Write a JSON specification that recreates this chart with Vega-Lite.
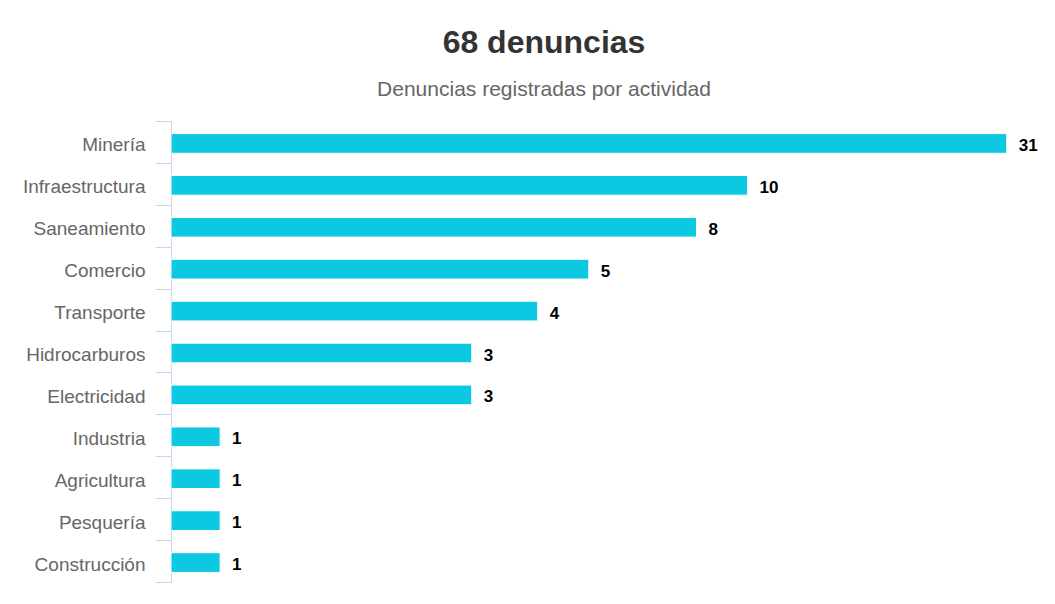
{
  "$schema": "https://vega.github.io/schema/vega-lite/v6.json",
  "width": 870,
  "height": 461,
  "autosize": {"type": "none"},
  "padding": {"left": 171, "top": 121, "right": 14, "bottom": 22},
  "background": "white",
  "title": {
    "text": "68 denuncias",
    "subtitle": "Denuncias registradas por actividad",
    "fontSize": 32,
    "fontWeight": "bold",
    "color": "#333333",
    "font": "Liberation Sans",
    "subtitleFont": "Liberation Sans",
    "subtitleFontSize": 21,
    "subtitleColor": "#666666",
    "anchor": "middle",
    "dx": -62,
    "offset": 11,
    "subtitlePadding": 19
  },
  "data": {
    "values": [
      {"actividad": "Minería", "denuncias": 31},
      {"actividad": "Infraestructura", "denuncias": 10},
      {"actividad": "Saneamiento", "denuncias": 8},
      {"actividad": "Comercio", "denuncias": 5},
      {"actividad": "Transporte", "denuncias": 4},
      {"actividad": "Hidrocarburos", "denuncias": 3},
      {"actividad": "Electricidad", "denuncias": 3},
      {"actividad": "Industria", "denuncias": 1},
      {"actividad": "Agricultura", "denuncias": 1},
      {"actividad": "Pesquería", "denuncias": 1},
      {"actividad": "Construcción", "denuncias": 1}
    ]
  },
  "encoding": {
    "y": {
      "field": "actividad",
      "type": "nominal",
      "sort": null,
      "scale": {"paddingInner": 0, "paddingOuter": 0},
      "axis": {
        "title": null,
        "domainColor": "#ccd6eb",
        "domainWidth": 1,
        "tickColor": "#ccd6eb",
        "tickWidth": 1,
        "tickSize": 16,
        "tickBand": "extent",
        "labelFontSize": 19,
        "labelColor": "#666666",
        "labelFont": "Liberation Sans",
        "labelPadding": 10,
        "labelOffset": 3
      }
    },
    "x": {
      "field": "denuncias",
      "type": "quantitative",
      "scale": {"type": "log", "domain": [0.807, 36], "nice": false},
      "axis": null
    }
  },
  "layer": [
    {
      "mark": {"type": "bar", "fill": "#0dc8e1", "stroke": "#ffffff", "strokeWidth": 1, "height": {"band": 0.47}, "yOffset": 1.5},
      "encoding": {"x2": {"datum": 0.807}}
    },
    {
      "mark": {
        "type": "text",
        "align": "left",
        "baseline": "middle",
        "dx": 12,
        "dy": 4,
        "fontSize": 17,
        "fontWeight": "bold",
        "font": "Liberation Sans",
        "color": "#000000"
      },
      "encoding": {"text": {"field": "denuncias", "type": "quantitative"}}
    }
  ],
  "config": {"view": {"stroke": null}}
}
